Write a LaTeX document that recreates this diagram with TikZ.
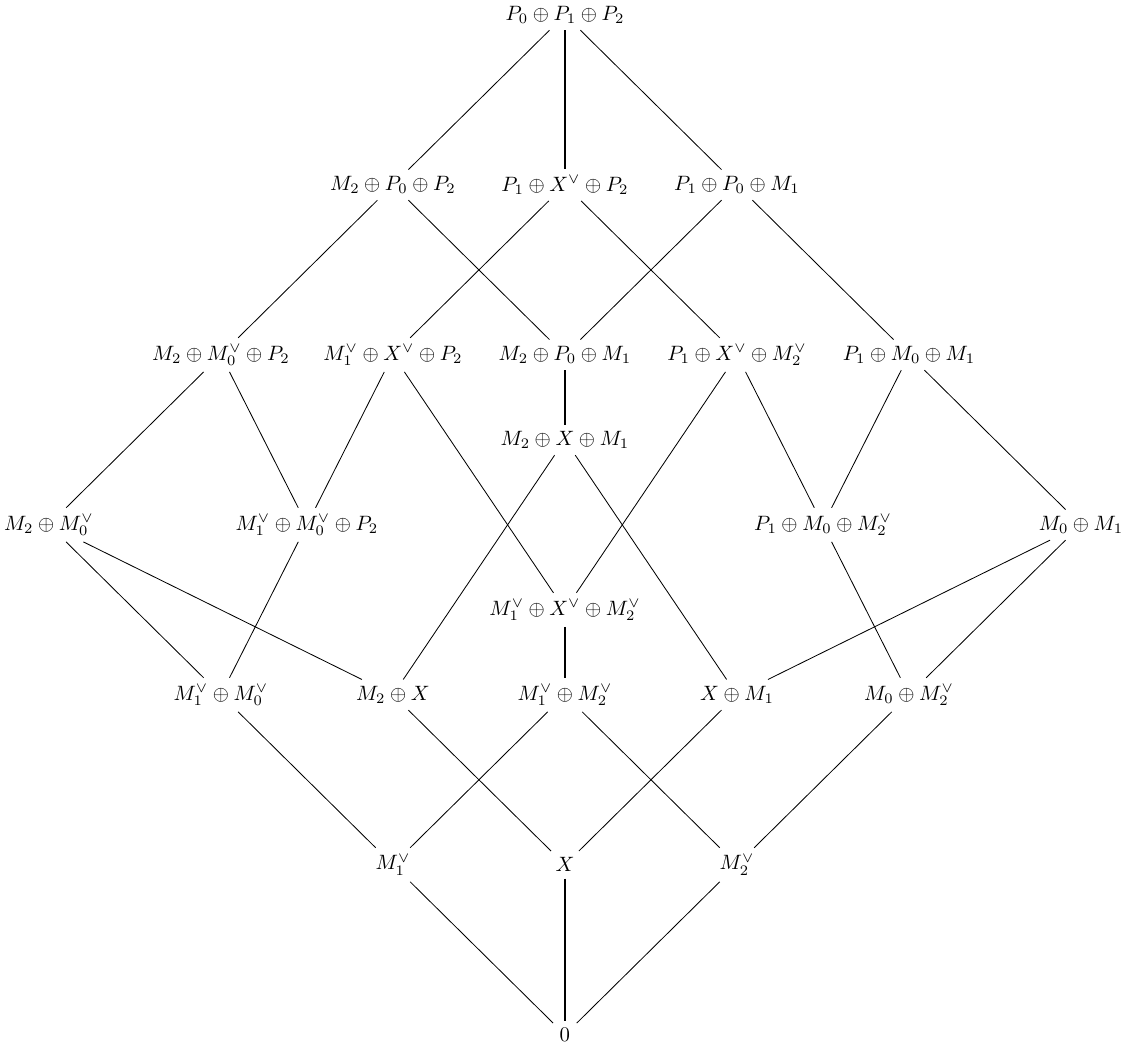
\documentclass[tikz,border=0pt]{standalone}
\usepackage{amsmath,amssymb,amsfonts}
\usetikzlibrary{positioning,calc}

\begin{document}
\begin{tikzpicture}[
  x=2.91cm, y=2.875cm,
  obj/.style={inner sep=3pt},
  e/.style={thin},
  ee/.style={thick}]

\useasboundingbox (-3.284,-6.108) rectangle (3.244,0.088);

% =================== the objects, row by row =============================
\node[obj] (t)  at (0,0)    {$P_0\oplus P_1\oplus P_2$};

\node[obj] (a1) at (-1,-1)  {$M_2\oplus P_0\oplus P_2$};
\node[obj] (a2) at (0,-1)   {$P_1\oplus X^\vee\oplus P_2$};
\node[obj] (a3) at (1,-1)   {$P_1\oplus P_0\oplus M_1$};

\node[obj] (b1) at (-2,-2)  {$M_2\oplus M_0^\vee\oplus P_2$};
\node[obj] (b2) at (-1,-2)  {$M_1^\vee\oplus X^\vee\oplus P_2$};
\node[obj] (b3) at (0,-2)   {$M_2\oplus P_0\oplus M_1$};
\node[obj] (b4) at (1,-2)   {$P_1\oplus X^\vee\oplus M_2^\vee$};
\node[obj] (b5) at (2,-2)   {$P_1\oplus M_0\oplus M_1$};

\node[obj] (c)  at (0,-2.5) {$M_2\oplus X\oplus M_1$};

\node[obj] (d1) at (-3,-3)  {$M_2\oplus M_0^\vee$};
\node[obj] (d2) at (-1.5,-3){$M_1^\vee\oplus M_0^\vee\oplus P_2$};
\node[obj] (d3) at (1.5,-3) {$P_1\oplus M_0\oplus M_2^\vee$};
\node[obj] (d4) at (3,-3)   {$M_0\oplus M_1$};

\node[obj] (e)  at (0,-3.5) {$M_1^\vee\oplus X^\vee\oplus M_2^\vee$};

\node[obj] (f1) at (-2,-4)  {$M_1^\vee\oplus M_0^\vee$};
\node[obj] (f2) at (-1,-4)  {$M_2\oplus X$};
\node[obj] (f3) at (0,-4)   {$M_1^\vee\oplus M_2^\vee$};
\node[obj] (f4) at (1,-4)   {$X\oplus M_1$};
\node[obj] (f5) at (2,-4)   {$M_0\oplus M_2^\vee$};

\node[obj] (g1) at (-1,-5)  {$M_1^\vee$};
\node[obj] (g2) at (0,-5)   {$X$};
\node[obj] (g3) at (1,-5)   {$M_2^\vee$};

\node[obj] (z)  at (0,-6)   {$0$};

% =================== the thin edges ======================================
\foreach \u/\v in {t/a1, t/a3,
    a1/b1, a1/b3, a2/b2, a2/b4, a3/b3, a3/b5,
    b1/d1, b1/d2, b2/d2, b2/e, b4/e, b4/d3, b5/d3, b5/d4,
    c/f2, c/f4,
    d1/f1, d1/f2, d2/f1, d3/f5, d4/f4, d4/f5,
    f1/g1, f2/g2, f3/g1, f3/g3, f4/g2, f5/g3,
    g1/z, g3/z}
  \draw[e] (\u) -- (\v);

% =================== the thick edges =====================================
\draw[ee] (t) -- (a2);
\draw[ee] (b3) -- (c);
\draw[ee] (e) -- (f3);
\draw[ee] (g2) -- (z);
\end{tikzpicture}
\end{document}
